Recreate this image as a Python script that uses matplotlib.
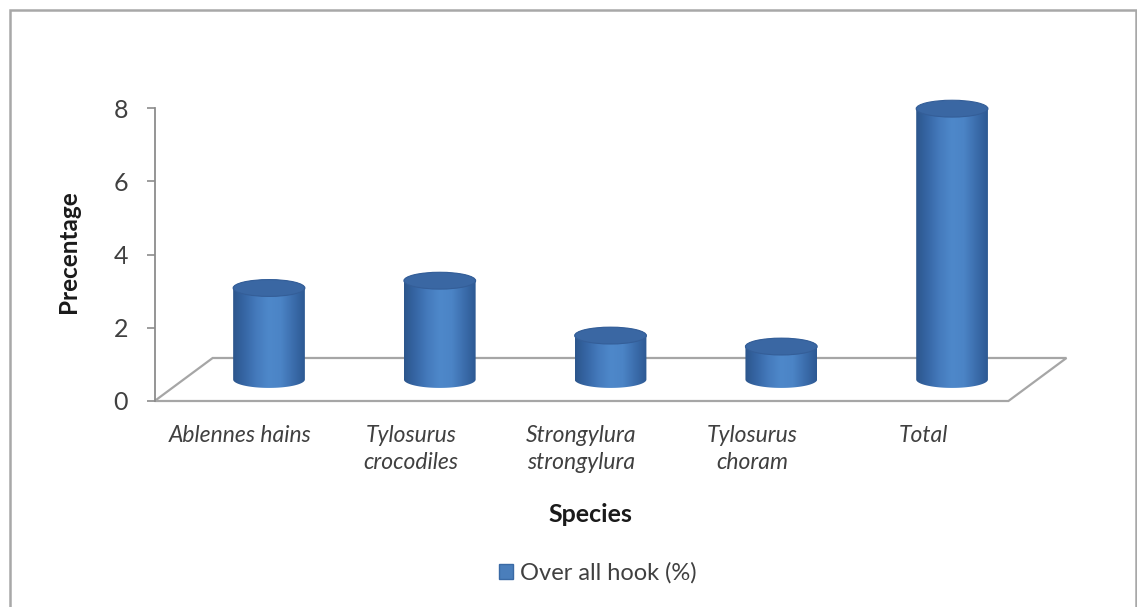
import numpy as np
import matplotlib
matplotlib.use("Agg")
import matplotlib.pyplot as plt
from matplotlib.patches import Ellipse, PathPatch, Polygon, Rectangle, Patch
from matplotlib.path import Path
from matplotlib.colors import LinearSegmentedColormap

# ---- data ----
categories = ["Ablennes hains", "Tylosurus\ncrocodiles", "Strongylura\nstrongylura",
              "Tylosurus\nchoram", "Total"]
values = [2.5, 2.7, 1.2, 0.9, 7.4]
yticks = [0, 2, 4, 6, 8]
series_name = "Over all hook (%)"
xlabel = "Species"
ylabel = "Precentage"

plt.rcParams['font.family'] = ['Lato', 'DejaVu Sans']

W, H = 1137, 607
fig = plt.figure(figsize=(W / 100, H / 100), dpi=100)
fig.patch.set_facecolor('white')

# figure border
fig.patches.append(Rectangle((10 / W, -0.01), (W - 11) / W, 1 - 10 / H + 0.01,
                             transform=fig.transFigure, fill=False,
                             ec='#a8a8a8', lw=1.8))

ax = fig.add_axes([154.6 / W, (H - 401) / H, 939.2 / W, 292.8 / H])
ax.set_facecolor('none')

x = np.arange(len(categories))
depth_x, depth_y = 0.34, 1.175
r, e = 0.21, 0.23
grid_c = '#a6a6a6'

# floor (3D base plane)
floor = Polygon([(-0.5, 0), (len(categories) - 0.5, 0),
                 (len(categories) - 0.5 + depth_x, depth_y), (-0.5 + depth_x, depth_y)],
                closed=True, fill=False, ec=grid_c, lw=1.6, clip_on=False, zorder=1)
ax.add_patch(floor)

cmap = LinearSegmentedColormap.from_list(
    'cyl', ['#2c568c', '#3767a6', '#457bbd', '#4e88ca', '#4b84c6', '#3c6ead', '#2d5993'])
grad = np.linspace(0, 1, 256).reshape(1, -1)

base = depth_y / 2
for xi, v in zip(x, values):
    cx = xi + depth_x / 2
    top = base + v
    t1 = np.linspace(np.pi, 2 * np.pi, 60)
    t2 = np.linspace(0, np.pi, 60)
    verts = [(cx - r, base)]
    verts += [(cx + r * np.cos(t), base + e * np.sin(t)) for t in t1]
    verts += [(cx + r, top)]
    verts += [(cx + r * np.cos(t), top + e * np.sin(t)) for t in t2]
    verts += [(cx - r, base)]
    path = Path(verts, closed=True)
    body = PathPatch(path, fc='none', ec='none', clip_on=False, zorder=3)
    ax.add_patch(body)
    im = ax.imshow(grad, cmap=cmap, aspect='auto', interpolation='bilinear',
                   extent=(cx - r, cx + r, base - e, top + e), zorder=3, clip_on=True)
    im.set_clip_path(body)
    ax.add_patch(Ellipse((cx, top), 2 * r, 2 * e, fc='#3a67a3', ec='#345e98',
                         lw=0.8, zorder=4, clip_on=False))

ax.set_xlim(-0.5, len(categories))
ax.set_ylim(0, 8)

for s in ['top', 'right', 'bottom']:
    ax.spines[s].set_visible(False)
ax.spines['left'].set_color('#8c8c8c')
ax.spines['left'].set_linewidth(1.3)

ax.set_yticks(yticks)
ax.set_yticklabels([str(t) for t in yticks])
ax.tick_params(axis='y', direction='out', length=6, width=1.2, color='#8c8c8c',
               pad=13, labelsize=18, labelcolor='#404040')

ax.set_xticks(x)
ax.set_xticklabels(categories)
ax.tick_params(axis='x', length=0, pad=17, labelsize=16.5, labelcolor='#404040')
for lbl in ax.get_xticklabels():
    lbl.set_style('italic')
    lbl.set_linespacing(1.4)
    lbl.set_multialignment('center')
    lbl.set_verticalalignment('top')

ax.set_ylabel(ylabel, fontsize=17.5, fontweight='bold', color='#1a1a1a')
ax.yaxis.set_label_coords(-0.0794, 0.509)
ax.set_xlabel(xlabel, fontsize=18, fontweight='bold', color='#1a1a1a',
              verticalalignment='center')
ax.xaxis.set_label_coords(0.4636, -0.389)

handle = Patch(facecolor='#4a7ebb', edgecolor='#3a6aa5', label=series_name)
fig.legend(handles=[handle], loc='center', bbox_to_anchor=(598 / W, 1 - 573 / H),
           frameon=False, fontsize=17, handlelength=0.6, handleheight=0.6,
           handletextpad=0.3, labelcolor='#404040')

fig.savefig('out.png', dpi=100, facecolor='white')
